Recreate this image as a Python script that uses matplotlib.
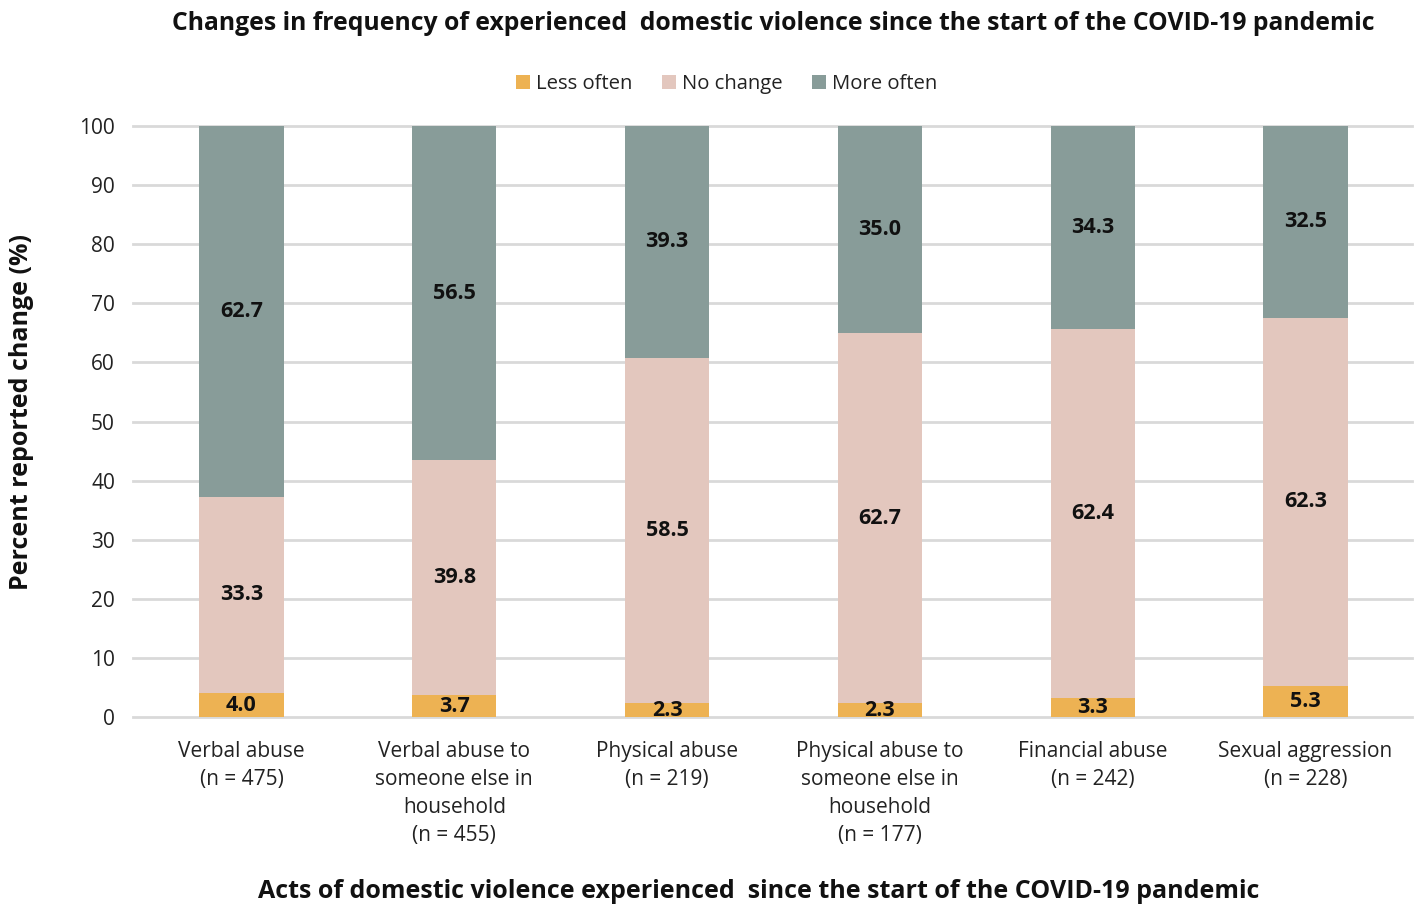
import matplotlib
matplotlib.use("Agg")
import matplotlib.pyplot as plt
import numpy as np

categories = [
    "Verbal abuse\n(n = 475)",
    "Verbal abuse to\nsomeone else in\nhousehold\n(n = 455)",
    "Physical abuse\n(n = 219)",
    "Physical abuse to\nsomeone else in\nhousehold\n(n = 177)",
    "Financial abuse\n(n = 242)",
    "Sexual aggression\n(n = 228)",
]
less_often = [4.0, 3.7, 2.3, 2.3, 3.3, 5.3]
no_change = [33.3, 39.8, 58.5, 62.7, 62.4, 62.3]
more_often = [62.7, 56.5, 39.3, 35.0, 34.3, 32.5]
series_names = ["Less often", "No change", "More often"]
colors = ["#EDB253", "#E3C7BE", "#889C99"]
yticks = list(range(0, 101, 10))

plt.rcParams["font.family"] = ["Open Sans", "DejaVu Sans"]

fig = plt.figure(figsize=(14.19, 9.05), dpi=100)
ax = fig.add_axes([0.0937, 0.2077, 0.9013, 0.653])

x = np.arange(len(categories))
width = 0.395
bottom = np.zeros(len(categories))
for vals, name, col in zip([less_often, no_change, more_often], series_names, colors):
    vals = np.array(vals)
    ax.bar(x, vals, width, bottom=bottom, color=col, label=name, zorder=3)
    for xi, b, v in zip(x, bottom, vals):
        ax.text(xi, b + v / 2, f"{v:.1f}", ha="center", va="center",
                fontsize=15.5, fontweight="bold", color="#111111", zorder=4)
    bottom += vals

ax.set_xlim(-0.51, 5.5)
ax.set_ylim(0, 100)
ax.set_yticks(yticks)
ax.set_yticklabels([str(t) for t in yticks], fontsize=15, color="#222222")
ax.set_xticks(x)
ax.set_xticklabels(categories, fontsize=15, color="#222222", linespacing=1.45)
ax.tick_params(axis="both", length=0)
ax.tick_params(axis="x", pad=17)
ax.tick_params(axis="y", pad=13)

for t in yticks:
    ax.axhline(t, color="#D9D9D9", linewidth=2, zorder=0, clip_on=False)
for s in ["top", "right", "left", "bottom"]:
    ax.spines[s].set_visible(False)

# Axis titles placed in figure coordinates
fig.text(0.0155, 0.545, "Percent reported change (%)", rotation=90,
         ha="center", va="center", fontsize=18, fontweight="bold", color="#111111")
fig.text(0.535, 0.0145, "Acts of domestic violence experienced  since the start of the COVID-19 pandemic",
         ha="center", va="center", fontsize=18, fontweight="bold", color="#111111")

fig.suptitle("Changes in frequency of experienced  domestic violence since the start of the COVID-19 pandemic",
             x=0.545, y=0.988, fontsize=17.8, fontweight="bold", color="#111111")

fig.legend(loc="center", bbox_to_anchor=(0.512, 0.907), ncol=3, frameon=False,
           fontsize=14.6, handlelength=0.7, handleheight=0.7, handletextpad=0.3,
           columnspacing=1.45, labelcolor="#222222")

fig.savefig("out.png", dpi=100)
